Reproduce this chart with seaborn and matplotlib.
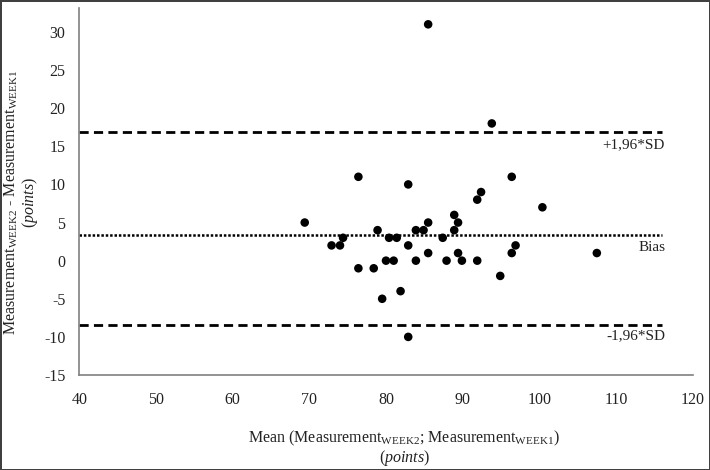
import matplotlib
matplotlib.use("Agg")
import matplotlib.pyplot as plt
import seaborn as sns
import pandas as pd

# Data (mean of two weeks vs. difference)
mean_vals = [69.4, 72.9, 74.0, 74.4, 76.4, 76.4, 78.4, 78.9, 79.5, 80.0,
             80.4, 81.0, 81.4, 81.9, 82.9, 82.9, 82.9, 83.9, 83.9, 84.9,
             85.5, 85.5, 85.5, 87.4, 87.9, 88.9, 88.9, 89.4, 89.4, 89.9,
             91.9, 91.9, 92.4, 93.8, 94.9, 96.4, 96.4, 96.9, 100.4, 107.5]
diff_vals = [5, 2, 2, 3, 11, -1, -1, 4, -5, 0,
             3, 0, 3, -4, 10, 2, -10, 4, 0, 4,
             31, 5, 1, 3, 0, 6, 4, 5, 1, 0,
             8, 0, 9, 18, -2, 11, 1, 2, 7, 1]

bias = 3.35
upper_loa = 16.85
lower_loa = -8.5
line_x = [40, 116]

x_ticks = [40, 50, 60, 70, 80, 90, 100, 110, 120]
y_ticks = [-15, -10, -5, 0, 5, 10, 15, 20, 25, 30]

sns.set_style("white")
plt.rcParams['font.family'] = ['Liberation Serif', 'DejaVu Serif']
plt.rcParams['mathtext.fontset'] = 'custom'
plt.rcParams['mathtext.rm'] = 'Liberation Serif'
plt.rcParams['mathtext.it'] = 'Liberation Serif:italic'
plt.rcParams['mathtext.bf'] = 'Liberation Serif:bold'
plt.rcParams['axes.unicode_minus'] = False

df = pd.DataFrame({"mean": mean_vals, "diff": diff_vals})

fig = plt.figure(figsize=(7.1, 4.7), dpi=100)
ax = fig.add_axes([0.1117, 0.2021, 0.9756 - 0.1117, 0.9823 - 0.2021])

sns.scatterplot(data=df, x="mean", y="diff", color="black", s=38,
                edgecolor="none", ax=ax, zorder=3)

ax.plot(line_x, [upper_loa, upper_loa], color="black", lw=2.0,
        linestyle=(0, (3.3, 1.9)), dash_capstyle="butt", zorder=2)
ax.plot(line_x, [lower_loa, lower_loa], color="black", lw=2.0,
        linestyle=(0, (3.3, 1.9)), dash_capstyle="butt", zorder=2)
ax.plot(line_x, [bias, bias], color="black", lw=1.8,
        linestyle=(0, (1.0, 0.75)), dash_capstyle="butt", zorder=2)

ax.text(116.4, 15.2, "+1,96*SD", ha="right", va="center", fontsize=11, color="#222222")
ax.text(116.4, 1.7, "Bias", ha="right", va="center", fontsize=11, color="#222222")
ax.text(116.4, -9.86, "-1,96*SD", ha="right", va="center", fontsize=11, color="#222222")

ax.set_xlim(40, 120)
ax.set_ylim(-15, 33.1)
ax.set_xticks(x_ticks)
ax.set_yticks(y_ticks)
ax.tick_params(axis="both", labelsize=11.5, colors="#808080", labelcolor="#222222",
               length=4, width=1, direction="out", pad=6)
ax.tick_params(axis="x", pad=8)

for s in ["top", "right"]:
    ax.spines[s].set_visible(False)
for s in ["left", "bottom"]:
    ax.spines[s].set_color("#808080")
    ax.spines[s].set_linewidth(1.2)

ax.set_xlabel(r"Mean (Measurement$_{\mathrm{WEEK2}}$; Measurement$_{\mathrm{WEEK1}}$)" "\n" r"($\mathit{points}$)",
              fontsize=11.5, color="#222222", linespacing=1.0)
ax.set_ylabel(r"Measurement$_{\mathrm{WEEK2}}$ - Measurement$_{\mathrm{WEEK1}}$" "\n" r"($\mathit{points}$)",
              fontsize=11.5, color="#222222", linespacing=1.0)
ax.xaxis.set_label_coords(0.53, -0.147)
ax.yaxis.set_label_coords(-0.064, 0.47)

fig.patch.set_edgecolor("#404040")
fig.patch.set_linewidth(2)

fig.savefig("out.png", dpi=100, edgecolor=fig.get_edgecolor(), facecolor="white")
